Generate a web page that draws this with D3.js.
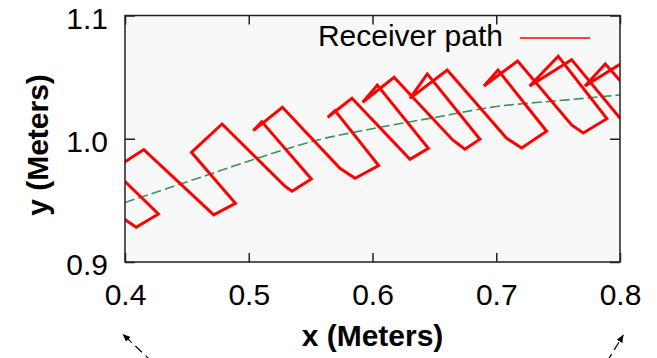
<!DOCTYPE html>
<html>
<head>
<meta charset="utf-8">
<script src="https://cdn.jsdelivr.net/npm/d3@7"></script>
<style>
  body { margin: 0; background: #fff; }
  svg text { font-family: "Liberation Sans", Arial, Helvetica, sans-serif; }
</style>
</head>
<body>
<div id="chart"></div>
<script>
// receiver path (metres)
const pathX = [0.3438, 0.3923, 0.4090, 0.4270, 0.3901, 0.4152, 0.4717, 0.4892, 0.4537, 0.4784,
  0.5296, 0.5350, 0.5506, 0.5105, 0.5037, 0.5272, 0.5737, 0.5859, 0.6050, 0.5697,
  0.5638, 0.5834, 0.6303, 0.6451, 0.6039, 0.5921, 0.6174, 0.6648, 0.6747, 0.6868,
  0.6443, 0.6303, 0.6604, 0.7084, 0.7205, 0.7407, 0.7014, 0.6901, 0.7173, 0.7609,
  0.7703, 0.7894, 0.7501, 0.7270, 0.7609, 0.8123, 0.8285, 0.7881, 0.7717, 0.8177];
const pathY = [0.9931, 0.9396, 0.9282, 0.9390, 0.9750, 0.9912, 0.9382, 0.9477, 0.9890, 1.0120,
  0.9612, 0.9574, 0.9674, 1.0139, 1.0066, 1.0255, 0.9760, 0.9679, 0.9782, 1.0228,
  1.0174, 1.0328, 0.9833, 0.9923, 1.0436, 1.0296, 1.0499, 0.9990, 0.9915, 0.9996,
  1.0526, 1.0328, 1.0558, 1.0004, 0.9925, 1.0061, 1.0558, 1.0428, 1.0631, 1.0112,
  1.0047, 1.0163, 1.0669, 1.0428, 1.0642, 1.0017, 1.0150, 1.0607, 1.0428, 1.0715];

// green dashed reference curve
const fitX = [0.4000, 0.4607, 0.5027, 0.5576, 0.5988, 0.6505, 0.6989, 0.7514, 0.8000];
const fitY = [0.9483, 0.9686, 0.9828, 0.9994, 1.0079, 1.0173, 1.0260, 1.0310, 1.0355];

const xTicks = [0.4, 0.5, 0.6, 0.7, 0.8];
const yTicks = [0.9, 1.0, 1.1];
const legendLabel = "Receiver path";

// the two little arrows under the x axis (from, to)
const arrowFrom = [[0.4219, 0.8190], [0.7894, 0.8190]];
const arrowTo = [[0.3985, 0.8412], [0.8026, 0.8406]];

const width = 657, height = 358;
const margin = { top: 15.5, right: 37, bottom: 96, left: 125 };

const svg = d3.select('#chart').append('svg')
  .attr('width', width)
  .attr('height', height);

const x = d3.scaleLinear().domain([0.4, 0.8]).range([margin.left, width - margin.right]);
const y = d3.scaleLinear().domain([0.9, 1.1]).range([height - margin.bottom, margin.top]);

const defs = svg.append('defs');
defs.append('clipPath').attr('id', 'plot-clip')
  .append('rect')
  .attr('x', x(0.4)).attr('y', y(1.1))
  .attr('width', x(0.8) - x(0.4)).attr('height', y(0.9) - y(1.1));

defs.append('marker')
  .attr('id', 'arrow-head')
  .attr('viewBox', '0 0 10 10')
  .attr('refX', 9).attr('refY', 5)
  .attr('markerWidth', 8).attr('markerHeight', 8)
  .attr('markerUnits', 'userSpaceOnUse')
  .attr('orient', 'auto')
  .append('path')
  .attr('d', 'M0,1 L10,5 L0,9 Z')
  .attr('fill', '#000');

// plot background
svg.append('rect')
  .attr('x', x(0.4)).attr('y', y(1.1))
  .attr('width', x(0.8) - x(0.4)).attr('height', y(0.9) - y(1.1))
  .attr('fill', '#f8f8f8');

const plot = svg.append('g').attr('clip-path', 'url(#plot-clip)');

const fitLine = d3.line()
  .x((d, i) => x(fitX[i]))
  .y((d, i) => y(fitY[i]))
  .curve(d3.curveMonotoneX);

plot.append('path')
  .attr('d', fitLine(fitX))
  .attr('fill', 'none')
  .attr('stroke', '#3c9160')
  .attr('stroke-width', 1.6)
  .attr('stroke-dasharray', '10,4');

const recLine = d3.line()
  .x((d, i) => x(pathX[i]))
  .y((d, i) => y(pathY[i]));

plot.append('path')
  .attr('d', recLine(pathX))
  .attr('fill', 'none')
  .attr('stroke', '#ff0000')
  .attr('stroke-width', 3)
  .attr('stroke-linejoin', 'miter');

// axes, ticks pointing inwards on all four sides
const axBottom = svg.append('g')
  .attr('transform', `translate(0,${y(0.9)})`)
  .call(d3.axisBottom(x).tickValues(xTicks).tickFormat(d3.format('.1f'))
    .tickSizeInner(-9).tickSizeOuter(0).tickPadding(22));

const axTop = svg.append('g')
  .attr('transform', `translate(0,${y(1.1)})`)
  .call(d3.axisTop(x).tickValues(xTicks).tickFormat('')
    .tickSizeInner(-9).tickSizeOuter(0));

const axLeft = svg.append('g')
  .attr('transform', `translate(${x(0.4)},0)`)
  .call(d3.axisLeft(y).tickValues(yTicks).tickFormat(d3.format('.1f'))
    .tickSizeInner(-10).tickSizeOuter(0).tickPadding(17));

const axRight = svg.append('g')
  .attr('transform', `translate(${x(0.8)},0)`)
  .call(d3.axisRight(y).tickValues(yTicks).tickFormat('')
    .tickSizeInner(-10).tickSizeOuter(0));

[axBottom, axTop, axLeft, axRight].forEach(g => {
  g.select('.domain').remove();
  g.selectAll('line').attr('stroke', '#222').attr('stroke-width', 1.5);
  g.selectAll('text')
    .attr('fill', '#000')
    .style('font-size', '30px')
    .style('font-family', '"Liberation Sans", Arial, sans-serif');
});
axLeft.selectAll('text').attr('dy', '0.42em');

// frame
svg.append('rect')
  .attr('x', x(0.4)).attr('y', y(1.1))
  .attr('width', x(0.8) - x(0.4)).attr('height', y(0.9) - y(1.1))
  .attr('fill', 'none')
  .attr('stroke', '#222')
  .attr('stroke-width', 1.5);

// axis titles
svg.append('text')
  .attr('x', (x(0.4) + x(0.8)) / 2)
  .attr('y', 346)
  .attr('text-anchor', 'middle')
  .style('font-size', '30px')
  .style('font-weight', 'bold')
  .text('x (Meters)');

svg.append('text')
  .attr('transform', `translate(48,145) rotate(-90)`)
  .attr('text-anchor', 'middle')
  .style('font-size', '30px')
  .style('font-weight', 'bold')
  .text('y (Meters)');

// legend
svg.append('text')
  .attr('x', 503)
  .attr('y', 45.5)
  .attr('text-anchor', 'end')
  .style('font-size', '30px')
  .text(legendLabel);

svg.append('line')
  .attr('x1', 520).attr('x2', 590)
  .attr('y1', 38).attr('y2', 38)
  .attr('stroke', '#ff0000')
  .attr('stroke-width', 1.5);

// arrows
arrowFrom.forEach((f, i) => {
  svg.append('line')
    .attr('x1', x(f[0])).attr('y1', y(f[1]))
    .attr('x2', x(arrowTo[i][0])).attr('y2', y(arrowTo[i][1]))
    .attr('stroke', '#000')
    .attr('stroke-width', 1.2)
    .attr('stroke-dasharray', '9,5')
    .attr('marker-end', 'url(#arrow-head)');
});
</script>
</body>
</html>
